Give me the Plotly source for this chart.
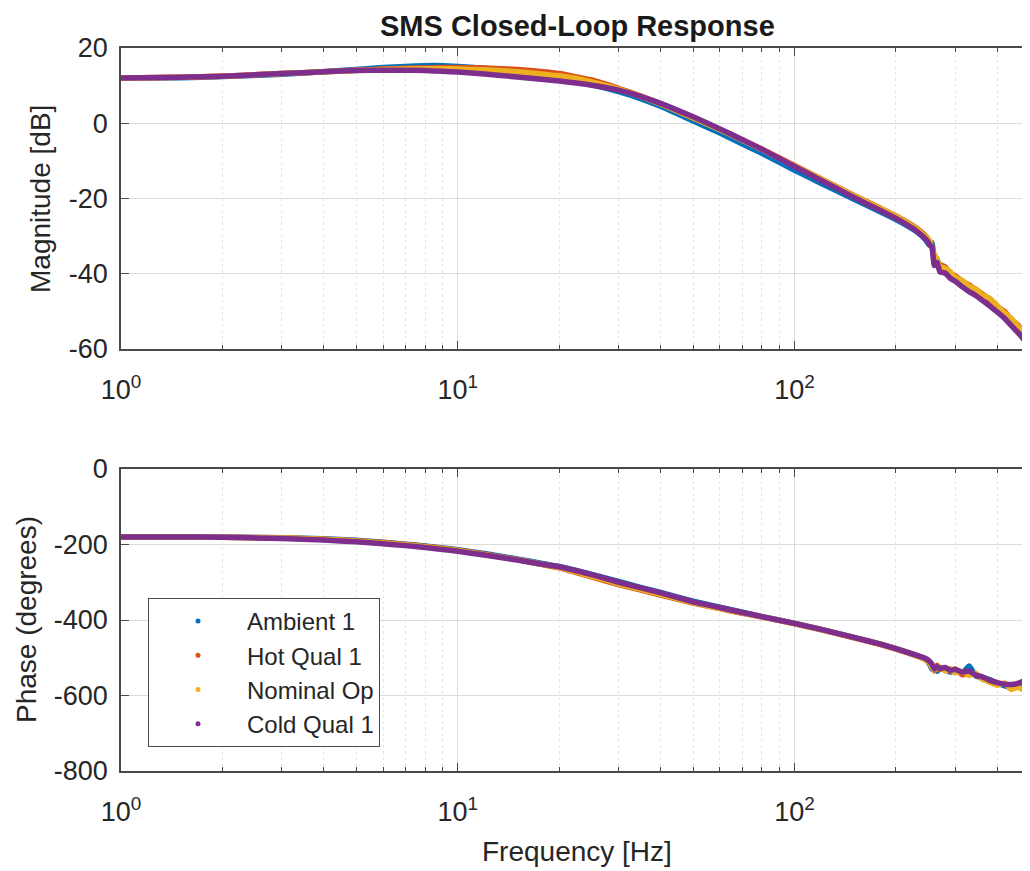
import plotly.graph_objects as go

# ---------------- data ----------------
FREQ = [1, 1.5, 2, 3, 4, 5, 6, 7, 8, 9, 10, 12, 15, 18, 20, 25, 30, 35, 40, 50,
        60, 70, 80, 100, 120, 150, 180, 200, 230, 245, 252, 256, 260, 265, 270,
        280, 290, 300, 315, 330, 345, 360, 380, 400, 420, 440, 460, 480, 500]

SERIES = ["Ambient 1", "Hot Qual 1", "Nominal Op", "Cold Qual 1"]
COLORS = ["#0072BD", "#D95319", "#EDB120", "#7E2F8E"]

MAG_AMBIENT = [12.0, 12.1, 12.4, 13.0, 13.7, 14.3, 14.8, 15.1, 15.3, 15.3, 15.1, 14.6, 13.6, 12.6, 11.9,
               10.2, 8.4, 6.5, 4.5, 0.6, -2.6, -5.5, -8.0, -12.5, -16.0, -20.2, -23.6, -25.6, -28.8,
               -31.0, -32.5, -31.8, -37.5, -36.0, -38.5, -39.0, -40.6, -41.5, -42.3, -44.0, -44.6,
               -46.2, -47.5, -49.6, -50.8, -53.0, -55.5, -57.2, -59.5]
MAG_HOT = [12.0, 12.2, 12.5, 13.2, 13.7, 14.1, 14.4, 14.6, 14.7, 14.8, 14.8, 14.7, 14.3, 13.7, 13.2,
           11.5, 9.3, 7.2, 5.2, 1.5, -1.6, -4.4, -6.9, -11.2, -14.8, -19.2, -22.6, -24.6, -27.8,
           -30.0, -31.6, -32.8, -35.5, -37.0, -37.5, -38.2, -39.8, -40.6, -42.0, -43.0, -44.2,
           -45.3, -46.8, -48.8, -50.0, -52.2, -53.6, -55.8, -57.5]
MAG_NOMINAL = [12.0, 12.2, 12.5, 13.2, 13.7, 14.0, 14.3, 14.4, 14.5, 14.5, 14.4, 14.2, 13.7, 13.0, 12.6,
               11.0, 9.1, 7.1, 5.1, 1.4, -1.7, -4.5, -7.0, -11.3, -14.9, -19.3, -22.7, -24.7, -28.0,
               -30.2, -31.2, -33.5, -34.8, -36.2, -38.0, -38.6, -39.5, -41.0, -41.8, -43.4, -44.0,
               -45.6, -46.5, -48.5, -50.4, -51.8, -54.0, -55.2, -58.0]
MAG_COLD = [12.0, 12.2, 12.5, 13.2, 13.7, 14.0, 14.1, 14.1, 14.0, 13.8, 13.6, 13.1, 12.3, 11.6, 11.2,
            10.1, 8.8, 7.1, 5.3, 1.7, -1.5, -4.4, -6.9, -11.5, -15.2, -19.7, -23.2, -25.3, -28.6,
            -30.8, -32.2, -33.0, -37.8, -37.0, -39.5, -39.8, -41.2, -42.0, -43.5, -44.8, -45.8,
            -47.0, -48.6, -50.2, -51.8, -53.8, -55.6, -57.6, -60.0]

PH_AMBIENT = [-180, -180, -181, -182, -185, -189, -194, -199, -204, -209, -214, -224, -238, -251, -258,
              -279, -298, -314, -327, -350, -366, -379, -391, -409, -425, -446, -464, -476, -494,
              -505, -518, -530, -524, -536, -529, -531, -538, -534, -540, -522, -548, -552, -558,
              -568, -574, -580, -572, -562, -545]
PH_HOT = [-180, -180, -181, -182, -186, -190, -195, -200, -205, -210, -215, -226, -240, -254, -262,
          -286, -306, -321, -334, -355, -370, -382, -392, -410, -426, -447, -465, -477, -495,
          -503, -512, -522, -535, -520, -531, -527, -536, -530, -545, -540, -544, -555, -563,
          -570, -569, -576, -575, -568, -550]
PH_NOMINAL = [-180, -180, -181, -183, -186, -191, -196, -201, -206, -211, -216, -227, -240, -253, -261,
              -284, -304, -319, -332, -354, -369, -381, -391, -409, -425, -446, -464, -476, -494,
              -506, -514, -526, -532, -528, -524, -535, -529, -540, -536, -547, -541, -556, -565,
              -573, -567, -584, -578, -585, -575]
PH_COLD = [-180, -180, -181, -184, -188, -193, -198, -203, -208, -213, -218, -228, -241, -253, -259,
           -280, -300, -315, -328, -352, -367, -380, -391, -409, -425, -446, -464, -476, -493,
           -502, -510, -518, -530, -524, -528, -526, -533, -531, -538, -535, -546, -550, -560,
           -566, -570, -571, -568, -560, -538]

MAGS = [MAG_AMBIENT, MAG_HOT, MAG_NOMINAL, MAG_COLD]
PHASES = [PH_AMBIENT, PH_HOT, PH_NOMINAL, PH_COLD]

MAG_TICKS = [-60, -40, -20, 0, 20]
MAG_TICK_TEXT = ["-60", "-40", "-20", "0", "20"]
PH_TICKS = [-800, -600, -400, -200, 0]
PH_TICK_TEXT = ["-800", "-600", "-400", "-200", "0"]
X_MAJOR = [1, 10, 100]
X_MAJOR_TEXT = ["10<sup>0</sup>", "10<sup>1</sup>", "10<sup>2</sup>"]
X_MINOR = [2, 3, 4, 5, 6, 7, 8, 9, 20, 30, 40, 50, 60, 70, 80, 90, 200, 300, 400, 500]

# ---------------- figure ----------------
# page body has an 8 px margin; target coordinates are measured on the full window
OFF = 8
W, H = 1030 - OFF, 871 - OFF
FONT = "Liberation Sans, Arial, Helvetica, sans-serif"
TXT = "#262626"
AX = "#4a4a4a"


def px_x(x):
    return (x - OFF) / W


def px_y(y):
    return 1 - (y - OFF) / H


fig = go.Figure()
for name, col, mag in zip(SERIES, COLORS, MAGS):
    fig.add_trace(go.Scatter(x=FREQ, y=mag, mode="lines",
                             line=dict(color=col, width=5.5, shape="spline", smoothing=0.4),
                             name=name, legendgroup=name, showlegend=False,
                             xaxis="x", yaxis="y"))
for name, col, ph in zip(SERIES, COLORS, PHASES):
    fig.add_trace(go.Scatter(x=FREQ, y=ph, mode="lines",
                             line=dict(color=col, width=5.5, shape="spline", smoothing=0.4),
                             name=name, legendgroup=name, showlegend=False,
                             xaxis="x2", yaxis="y2"))
for name, col in zip(SERIES, COLORS):
    fig.add_trace(go.Scatter(x=[None], y=[None], mode="markers",
                             marker=dict(color=col, size=5), name=name,
                             legendgroup=name, xaxis="x2", yaxis="y2"))

x0 = px_x(121)
top_dom = [px_y(349), px_y(48)]
bot_dom = [px_y(771), px_y(469)]


def xaxis(anchor):
    return dict(type="log", range=[0, 2.699], domain=[x0, 1.0], anchor=anchor,
                tickvals=X_MAJOR, ticktext=X_MAJOR_TEXT, ticks="inside", ticklen=8,
                tickcolor=AX, showline=True, linecolor=AX, linewidth=1.5, mirror="ticks",
                showgrid=True, gridcolor="#dcdcdc", gridwidth=1, zeroline=False,
                tickfont=dict(size=27, color=TXT, family=FONT), automargin=False,
                ticklabelstandoff=16,
                minor=dict(tickvals=X_MINOR, ticks="inside", ticklen=4, tickcolor=AX,
                           showgrid=True, gridcolor="#e6e6e6", griddash="dot", gridwidth=1))


def yaxis(anchor, dom, rng, ticks, text):
    return dict(range=rng, domain=dom, anchor=anchor, tickvals=ticks, ticktext=text,
                ticks="inside", ticklen=8, tickcolor=AX, showline=True, linecolor=AX,
                linewidth=1.5, mirror="ticks", showgrid=True, gridcolor="#dcdcdc",
                gridwidth=1, zeroline=False, automargin=False,
                tickfont=dict(size=27, color=TXT, family=FONT), ticklabelstandoff=6)


fig.update_layout(
    width=W, height=H, margin=dict(l=0, r=0, t=0, b=0),
    paper_bgcolor="white", plot_bgcolor="white", template="none",
    font=dict(family=FONT, color=TXT),
    xaxis=xaxis("y"), yaxis=yaxis("x", top_dom, [-60, 20], MAG_TICKS, MAG_TICK_TEXT),
    xaxis2=xaxis("y2"), yaxis2=yaxis("x2", bot_dom, [-800, 0], PH_TICKS, PH_TICK_TEXT),
    legend=dict(x=px_x(148), y=px_y(598), xanchor="left", yanchor="top",
                bgcolor="white", bordercolor=AX, borderwidth=1,
                font=dict(size=24, color=TXT, family=FONT), itemwidth=88,
                tracegroupgap=0),
    showlegend=True,
    annotations=[
        dict(text="<b>SMS Closed-Loop Response</b>", x=px_x(577), y=px_y(26),
             xref="paper", yref="paper", showarrow=False, xanchor="center", yanchor="middle",
             font=dict(size=29, color="#1a1a1a", family=FONT)),
        dict(text="Magnitude [dB]", x=px_x(40), y=px_y(199), xref="paper", yref="paper",
             showarrow=False, textangle=-90, xanchor="center", yanchor="middle",
             font=dict(size=28, color=TXT, family=FONT)),
        dict(text="Phase (degrees)", x=px_x(26), y=px_y(620), xref="paper", yref="paper",
             showarrow=False, textangle=-90, xanchor="center", yanchor="middle",
             font=dict(size=28, color=TXT, family=FONT)),
        dict(text="Frequency [Hz]", x=px_x(577), y=px_y(851), xref="paper", yref="paper",
             showarrow=False, xanchor="center", yanchor="middle",
             font=dict(size=28, color=TXT, family=FONT)),
    ],
)

fig.write_html("out.html")
